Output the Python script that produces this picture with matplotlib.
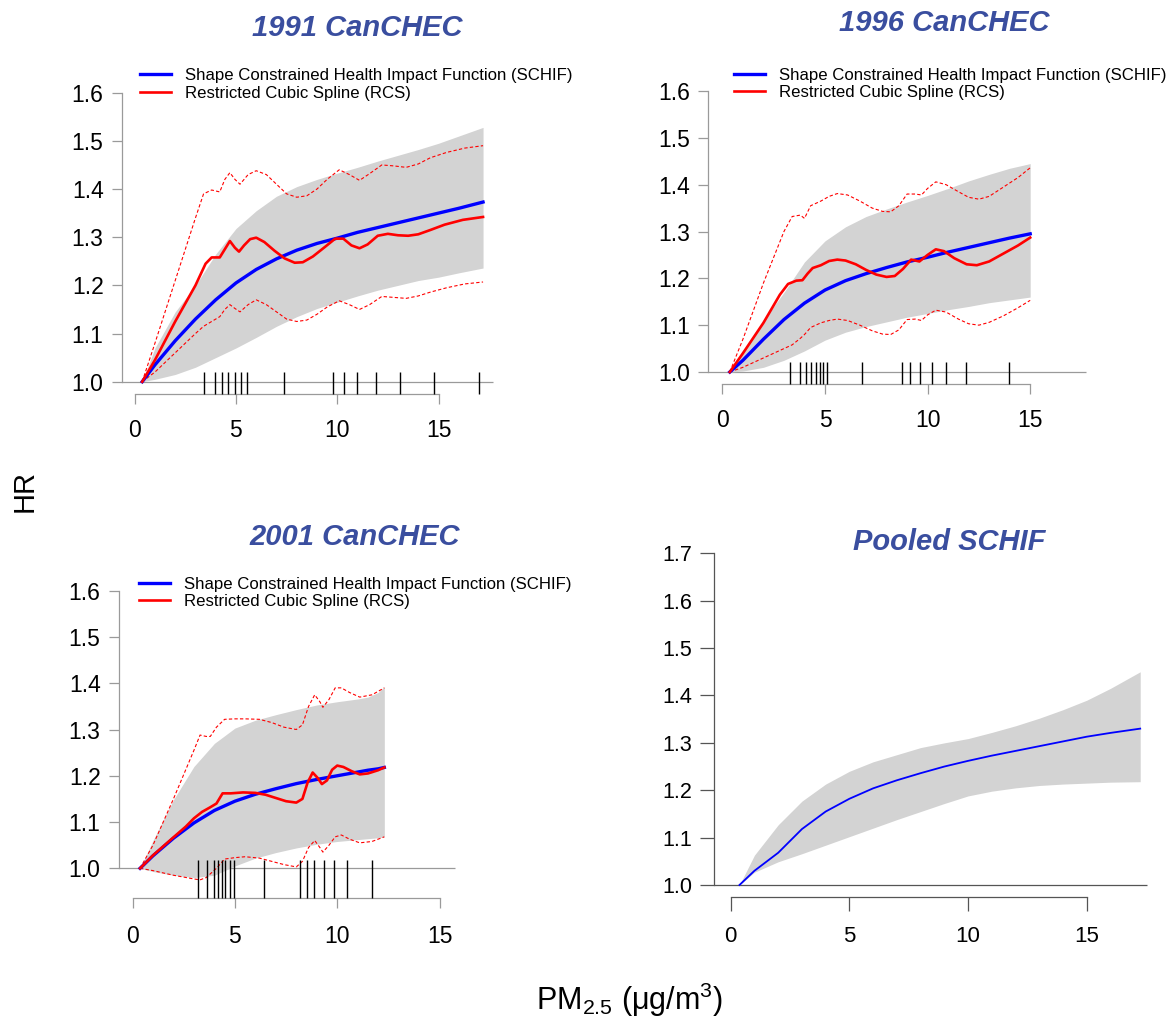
import matplotlib
matplotlib.use("Agg")
import matplotlib.pyplot as plt

plt.rcParams['font.family'] = ['Liberation Sans', 'DejaVu Sans']
plt.rcParams['mathtext.fontset'] = 'custom'
plt.rcParams['mathtext.rm'] = 'Liberation Sans'
plt.rcParams['mathtext.it'] = 'Liberation Sans:italic'

W, H = 1170, 1019
TITLE_BLUE = '#3a4e9f'
BAND = '#d3d3d3'
AXGRAY = '#9a9a9a'

# ---------------- 1991 CanCHEC ----------------
x91 = [0.37, 1, 2, 3, 4, 5, 6, 7, 8, 9, 10, 11, 12, 13, 14, 15, 16, 17.2]
schif91 = [1.0, 1.035, 1.085, 1.13, 1.17, 1.205, 1.233, 1.255, 1.273, 1.287, 1.298,
           1.31, 1.32, 1.33, 1.34, 1.35, 1.36, 1.373]
up91 = [1.0, 1.07, 1.145, 1.2, 1.265, 1.318, 1.355, 1.385, 1.405, 1.42, 1.433,
        1.445, 1.458, 1.47, 1.482, 1.495, 1.51, 1.528]
lo91 = [1.0, 1.005, 1.015, 1.03, 1.05, 1.07, 1.092, 1.115, 1.135, 1.152, 1.165,
        1.178, 1.19, 1.2, 1.21, 1.217, 1.226, 1.236]
rcs_x91 = [0.37, 1, 2, 3, 3.5, 3.8, 4.2, 4.45, 4.7, 4.95, 5.15, 5.4, 5.7, 6.0, 6.4, 6.9,
           7.4, 7.9, 8.3, 8.8, 9.4, 9.9, 10.3, 10.7, 11.1, 11.5, 12.0, 12.5, 13.0, 13.5,
           14.0, 14.6, 15.3, 16.2, 17.2]
rcs91 = [1.0, 1.045, 1.125, 1.2, 1.245, 1.258, 1.258, 1.275, 1.292, 1.278, 1.27, 1.283,
         1.296, 1.299, 1.29, 1.272, 1.256, 1.247, 1.248, 1.26, 1.28, 1.297, 1.297, 1.283,
         1.277, 1.285, 1.303, 1.307, 1.304, 1.303, 1.306, 1.315, 1.326, 1.336, 1.342]
ci_x91 = [0.37, 1, 2, 3, 3.4, 3.8, 4.2, 4.45, 4.7, 4.95, 5.2, 5.6, 6.0, 6.5, 7.0, 7.5,
          8.0, 8.5, 9.0, 9.5, 10.1, 10.6, 11.1, 11.6, 12.2, 12.8, 13.4, 14.0, 14.6, 15.4,
          16.3, 17.2]
rcs_up91 = [1.0, 1.08, 1.21, 1.34, 1.39, 1.398, 1.394, 1.42, 1.434, 1.42, 1.41, 1.43,
            1.438, 1.43, 1.41, 1.39, 1.383, 1.386, 1.4, 1.42, 1.44, 1.43, 1.418, 1.432,
            1.45, 1.448, 1.445, 1.452, 1.465, 1.476, 1.485, 1.49]
rcs_lo91 = [1.0, 1.02, 1.06, 1.1, 1.115, 1.125, 1.135, 1.15, 1.16, 1.152, 1.145, 1.16,
            1.17, 1.16, 1.145, 1.13, 1.125, 1.128, 1.14, 1.155, 1.168, 1.16, 1.15, 1.16,
            1.177, 1.175, 1.173, 1.178, 1.186, 1.195, 1.203, 1.207]
rug91 = [3.43, 3.98, 4.33, 4.61, 4.93, 5.24, 5.54, 7.39, 9.80, 10.35, 11.0, 11.91,
         13.11, 14.76, 16.98]

# ---------------- 1996 CanCHEC ----------------
x96 = [0.36, 1, 2, 3, 4, 5, 6, 7, 8, 9, 10, 11, 12, 13, 14, 15]
schif96 = [1.0, 1.025, 1.07, 1.112, 1.147, 1.175, 1.195, 1.21, 1.223, 1.235, 1.245,
           1.256, 1.266, 1.276, 1.286, 1.295]
up96 = [1.0, 1.04, 1.11, 1.17, 1.235, 1.28, 1.31, 1.332, 1.348, 1.363, 1.377, 1.392,
        1.408, 1.422, 1.435, 1.445]
lo96 = [1.0, 1.002, 1.01, 1.025, 1.045, 1.068, 1.085, 1.097, 1.107, 1.117, 1.125,
        1.133, 1.14, 1.148, 1.154, 1.16]
rcs_x96 = [0.36, 1, 2, 2.8, 3.2, 3.6, 3.9, 4.15, 4.4, 4.8, 5.2, 5.6, 6.0, 6.5, 7.0, 7.5,
           8.0, 8.4, 8.8, 9.2, 9.6, 10.0, 10.4, 10.8, 11.3, 11.9, 12.4, 13.0, 13.7, 14.4, 15.0]
rcs96 = [1.0, 1.04, 1.105, 1.165, 1.188, 1.195, 1.196, 1.21, 1.222, 1.228, 1.237, 1.24,
         1.238, 1.23, 1.218, 1.208, 1.203, 1.205, 1.22, 1.24, 1.236, 1.25, 1.262, 1.258,
         1.243, 1.23, 1.228, 1.236, 1.253, 1.27, 1.287]
ci_x96 = [0.36, 1, 2, 3, 3.4, 3.8, 4.0, 4.3, 4.8, 5.2, 5.6, 6.1, 6.7, 7.3, 7.8, 8.2, 8.6,
          9.0, 9.4, 9.7, 10.0, 10.4, 10.9, 11.5, 12.0, 12.5, 13.0, 13.7, 14.4, 15.0]
rcs_up96 = [1.0, 1.07, 1.19, 1.3, 1.332, 1.335, 1.328, 1.355, 1.365, 1.375, 1.381,
            1.378, 1.365, 1.35, 1.343, 1.342, 1.355, 1.38, 1.38, 1.378, 1.392, 1.406,
            1.4, 1.385, 1.373, 1.369, 1.375, 1.395, 1.415, 1.436]
rcs_lo96 = [1.0, 1.01, 1.03, 1.05, 1.058, 1.072, 1.08, 1.095, 1.105, 1.11, 1.113, 1.11,
            1.1, 1.088, 1.081, 1.08, 1.09, 1.112, 1.113, 1.11, 1.122, 1.132, 1.128,
            1.113, 1.103, 1.1, 1.106, 1.12, 1.137, 1.153]
rug96 = [3.28, 3.77, 4.09, 4.32, 4.54, 4.76, 4.90, 5.08, 6.79, 8.74, 9.15, 9.64, 10.22,
         10.88, 11.89, 13.96]

# ---------------- 2001 CanCHEC ----------------
x01 = [0.37, 1, 2, 3, 4, 5, 6, 7, 8, 9, 10, 11, 11.5, 12.0, 12.3]
schif01 = [1.0, 1.027, 1.065, 1.098, 1.125, 1.145, 1.16, 1.172, 1.183, 1.192, 1.2,
           1.208, 1.212, 1.215, 1.218]
up01 = [1.0, 1.06, 1.148, 1.22, 1.27, 1.303, 1.32, 1.332, 1.343, 1.353, 1.36, 1.366,
        1.37, 1.38, 1.393]
lo01 = [1.0, 0.993, 0.985, 0.98, 0.985, 1.005, 1.022, 1.034, 1.044, 1.052, 1.058,
        1.062, 1.064, 1.066, 1.068]
rcs_x01 = [0.37, 1, 2, 2.6, 3.0, 3.4, 3.8, 4.1, 4.4, 4.8, 5.4, 6.0, 6.5, 7.0, 7.5, 8.0,
           8.3, 8.55, 8.8, 9.05, 9.25, 9.5, 9.75, 10.0, 10.3, 10.7, 11.1, 11.5, 12.0, 12.3]
rcs01 = [1.0, 1.028, 1.067, 1.09, 1.108, 1.122, 1.132, 1.14, 1.162, 1.162, 1.164, 1.163,
         1.159, 1.152, 1.145, 1.142, 1.15, 1.185, 1.207, 1.195, 1.182, 1.19, 1.213, 1.222,
         1.219, 1.21, 1.203, 1.205, 1.212, 1.218]
ci_x01 = [0.37, 1, 2, 3, 3.3, 3.6, 3.8, 4.1, 4.5, 5.0, 5.5, 6.2, 6.8, 7.4, 8.0, 8.3, 8.6,
          8.9, 9.15, 9.3, 9.6, 9.9, 10.2, 10.6, 11.1, 11.7, 12.3]
rcs_up01 = [1.0, 1.05, 1.15, 1.255, 1.288, 1.285, 1.285, 1.305, 1.322, 1.323, 1.323,
            1.322, 1.315, 1.305, 1.3, 1.31, 1.35, 1.375, 1.36, 1.348, 1.365, 1.39, 1.39,
            1.38, 1.37, 1.375, 1.39]
rcs_lo01 = [1.0, 0.995, 0.985, 0.977, 0.975, 0.98, 0.988, 1.0, 1.02, 1.023, 1.025, 1.022,
            1.015, 1.008, 1.003, 1.015, 1.045, 1.06, 1.045, 1.035, 1.05, 1.068, 1.072,
            1.063, 1.055, 1.058, 1.068]
rug01 = [3.22, 3.64, 3.97, 4.19, 4.36, 4.50, 4.76, 4.96, 6.40, 8.16, 8.51, 8.88, 9.34,
         9.82, 10.48, 11.71]

# ---------------- Pooled SCHIF ----------------
xp = [0.37, 1, 2, 3, 4, 5, 6, 7, 8, 9, 10, 11, 12, 13, 14, 15, 16, 17.25]
schifp = [1.0, 1.03, 1.068, 1.118, 1.155, 1.182, 1.204, 1.221, 1.236, 1.25, 1.262, 1.273,
          1.283, 1.293, 1.303, 1.313, 1.321, 1.33]
upp = [1.0, 1.063, 1.127, 1.177, 1.213, 1.24, 1.26, 1.275, 1.29, 1.3, 1.309, 1.322,
       1.336, 1.352, 1.37, 1.39, 1.415, 1.45]
lop = [1.0, 1.027, 1.049, 1.066, 1.084, 1.102, 1.12, 1.138, 1.155, 1.172, 1.188, 1.198,
       1.205, 1.21, 1.213, 1.215, 1.217, 1.218]

xticks = [0, 5, 10, 15]
labels = ['Shape Constrained Health Impact Function (SCHIF)', 'Restricted Cubic Spline (RCS)']

fig = plt.figure(figsize=(W / 100, H / 100), dpi=100)


def make_ax(box, xref, yref):
    # box and refs are in figure pixels (top-left origin)
    left, top, right, bottom = box
    d0, p0, d1, p1 = xref
    sx = (p1 - p0) / (d1 - d0)
    e0, q0, e1, q1 = yref
    sy = (q0 - q1) / (e1 - e0)
    ax = fig.add_axes([left / W, 1 - bottom / H, (right - left) / W, (bottom - top) / H])
    ax.set_xlim(d0 + (left - p0) / sx, d0 + (right - p0) / sx)
    ax.set_ylim(e0 - (bottom - q0) / sy, e0 + (q0 - top) / sy)
    ax.patch.set_alpha(0)
    return ax


def style_axes(ax, yaxis_x, hline_end, xaxis_y, yticks, color, ylen, xlen,
               ysize=16.5, xsize=16.5, ypad=6, xpad=11):
    for s in ['top', 'right']:
        ax.spines[s].set_visible(False)
    ax.spines['left'].set_position(('data', yaxis_x))
    ax.spines['left'].set_bounds(yticks[0], yticks[-1])
    ax.spines['bottom'].set_position(('data', xaxis_y))
    ax.spines['bottom'].set_bounds(0, 15)
    for s in ['left', 'bottom']:
        ax.spines[s].set_color(color)
        ax.spines[s].set_linewidth(0.9)
    ax.set_yticks(yticks)
    ax.set_yticklabels([f'{v:.1f}' for v in yticks])
    ax.set_xticks(xticks)
    ax.tick_params(axis='y', direction='out', length=ylen, width=0.9, color=color,
                   labelsize=ysize, pad=ypad)
    ax.tick_params(axis='x', direction='out', length=xlen, width=0.9, color=color,
                   labelsize=xsize, pad=xpad)
    ax.hlines(1.0, yaxis_x, hline_end, color=color, lw=0.9, zorder=1)


def draw_panel(ax, x, schif, up, lo, rcs_x=None, rcs=None, ci_x=None, rcs_up=None,
               rcs_lo=None, rug=None, xaxis_y=None, rug_top=None, lw=2.4):
    ax.fill_between(x, lo, up, color=BAND, lw=0, zorder=2)
    h1, = ax.plot(x, schif, color='#0000ff', lw=lw, zorder=4, label=labels[0])
    if rcs is None:
        return None
    h2, = ax.plot(rcs_x, rcs, color='#ff0000', lw=1.9, zorder=5, label=labels[1])
    ax.plot(ci_x, rcs_up, color='#ff0000', lw=0.8, ls=(0, (3, 2)), zorder=3)
    ax.plot(ci_x, rcs_lo, color='#ff0000', lw=0.8, ls=(0, (3, 2)), zorder=3)
    ax.vlines(rug, xaxis_y, rug_top, color='black', lw=1.0, zorder=6)
    return [h1, h2]


def add_legend(ax, handles, x_px, y_px):
    ax.legend(handles=handles, loc='center left', bbox_to_anchor=(x_px / W, 1 - y_px / H),
              bbox_transform=fig.transFigure, frameon=False, fontsize=12.1,
              handlelength=1.9, handletextpad=0.8, labelspacing=0.15, borderpad=0,
              borderaxespad=0)


yt6 = [1.0, 1.1, 1.2, 1.3, 1.4, 1.5, 1.6]
yt7 = [1.0, 1.1, 1.2, 1.3, 1.4, 1.5, 1.6, 1.7]

# panel 1991
ax1 = make_ax((60, 60, 540, 450), (0, 134.7, 15, 438.5), (1.0, 381.7, 1.6, 92.7))
style_axes(ax1, -0.647, 17.69, 0.975, yt6, AXGRAY, 7, 7)
hd = draw_panel(ax1, x91, schif91, up91, lo91, rcs_x91, rcs91, ci_x91, rcs_up91,
                rcs_lo91, rug91, 0.975, 1.021)
add_legend(ax1, hd, 139.5, 84.5)

# panel 1996
ax2 = make_ax((650, 60, 1130, 450), (0, 722.4, 15, 1030.2), (1.0, 372, 1.6, 91))
style_axes(ax2, -0.68, 17.7, 0.974, yt6, AXGRAY, 7, 7)
hd = draw_panel(ax2, x96, schif96, up96, lo96, rcs_x96, rcs96, ci_x96, rcs_up96,
                rcs_lo96, rug96, 0.974, 1.021)
add_legend(ax2, hd, 733.5, 84)

# panel 2001
ax3 = make_ax((60, 560, 540, 960), (0, 132.5, 15, 439.6), (1.0, 868.3, 1.6, 590.7))
style_axes(ax3, -0.68, 15.77, 0.935, yt6, AXGRAY, 7, 7, xpad=12)
hd = draw_panel(ax3, x01, schif01, up01, lo01, rcs_x01, rcs01, ci_x01, rcs_up01,
                rcs_lo01, rug01, 0.935, 1.019)
add_legend(ax3, hd, 138.5, 592.8)

# pooled panel
ax4 = make_ax((650, 530, 1160, 960), (0, 730.7, 15, 1086.8), (1.0, 885, 1.7, 553.3))
style_axes(ax4, -0.70, 17.55, 0.974, yt7, '#555555', 10, 10, ysize=15.5, xsize=16,
           ypad=5.5, xpad=11)
draw_panel(ax4, xp, schifp, upp, lop, lw=1.3)

title_kw = dict(fontsize=21, fontweight='bold', fontstyle='italic', color=TITLE_BLUE,
                ha='center', va='center')
fig.text(357.5 / W, 1 - 28 / H, '1991 CanCHEC', **title_kw)
fig.text(944.5 / W, 1 - 23 / H, '1996 CanCHEC', **title_kw)
fig.text(354.7 / W, 1 - 537 / H, '2001 CanCHEC', **title_kw)
fig.text(948.7 / W, 1 - 542 / H, 'Pooled SCHIF', **title_kw)

fig.text(25 / W, 1 - 491 / H, 'HR', rotation=90, fontsize=21, ha='center', va='center')
fig.text(630 / W, 1 - 1010 / H, r'PM$_{2.5}$ (μg/m$^3$)', fontsize=22, ha='center',
         va='baseline')

fig.savefig('out.png', dpi=100)
